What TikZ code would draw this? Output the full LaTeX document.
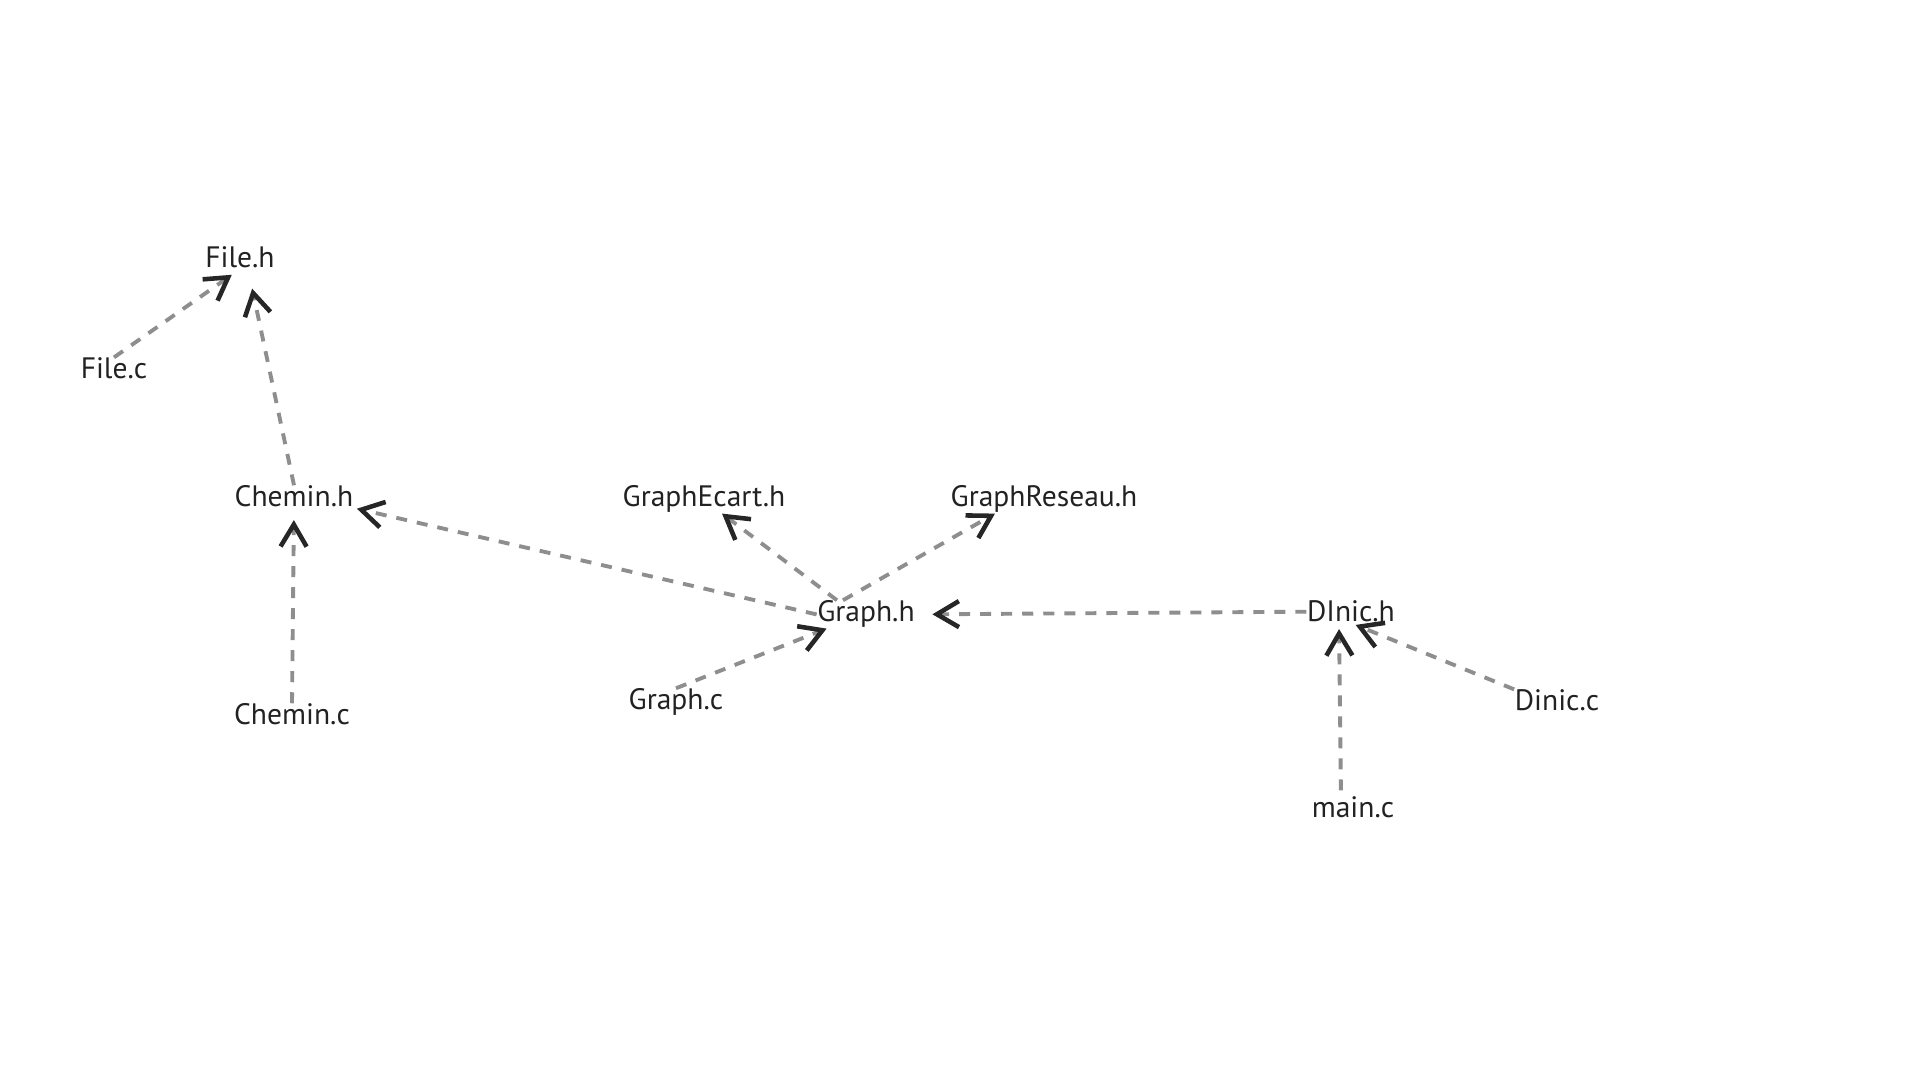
\documentclass[tikz,border=0pt]{standalone}
\usepackage{fontspec}
\setmainfont{PT Sans}
\usetikzlibrary{arrows.meta}
\definecolor{edgegray}{HTML}{8E8E8E}
\definecolor{tipdark}{HTML}{262626}
\definecolor{labeldark}{HTML}{222222}
\begin{document}
\begin{tikzpicture}[x=0.01cm, y=-0.01cm,
					filenode/.style={inner sep=0pt,
					anchor=base,
					text=labeldark,
					font=\fontsize{8.4}{10}\selectfont},
					depend/.style={draw=edgegray,
					line width=1.1pt,
					dash pattern=on 0.11cm off 0.10cm,
					-{Straight Barb[length=2.2mm, width=2.6mm, line width=1.3pt, color=tipdark]}}
					]

\useasboundingbox (0,0) rectangle (1920,1080);

% headers
\node[filenode] (FileH) at (240,268) {File.h};
\node[filenode] (CheminH) at (294,507) {Chemin.h};
\node[filenode] (GraphEcartH) at (704,507) {GraphEcart.h};
\node[filenode] (GraphReseauH) at (1044,507) {GraphReseau.h};
\node[filenode] (GraphH) at (866,622) {Graph.h};
\node[filenode] (DInicH) at (1351,622) {DInic.h};

% sources
\node[filenode] (FileC) at (114,379) {File.c};
\node[filenode] (CheminC) at (292,725) {Chemin.c};
\node[filenode] (GraphC) at (676,710) {Graph.c};
\node[filenode] (DinicC) at (1557,711) {Dinic.c};
\node[filenode] (MainC) at (1353,818) {main.c};

% Arrows
\draw [depend, shorten >=0.1cm] (FileC.north) -- (FileH.south);
\draw [depend, shorten >=0.2cm] (CheminH.north) -- ([xshift=0.08cm]FileH.south);
\draw [depend, shorten >=0.12cm] (CheminC.north) -- (CheminH.south);
\draw [depend, shorten >=0.03cm] (GraphH.west) -- (CheminH.south east);
\draw [depend] ([xshift=-0.29cm]GraphH.north) -- ([xshift=0.18cm]GraphEcartH.south);
\draw [depend] ([xshift=-0.23cm]GraphH.north) -- ([xshift=-0.49cm]GraphReseauH.south);
\draw [depend] (GraphC.north) -- ([xshift=0.1cm]GraphH.south west);
\draw [depend, shorten >=0.17cm] (DInicH.west) -- (GraphH.east);
\draw [depend, shorten >=0.06cm, shorten <=0.06cm] ([xshift=-0.12cm]MainC.north) -- ([xshift=-0.12cm]DInicH.south);
\draw [depend, shorten >=0.05cm] (DinicC.north west) -- (DInicH.south);

\end{tikzpicture}
\end{document}
